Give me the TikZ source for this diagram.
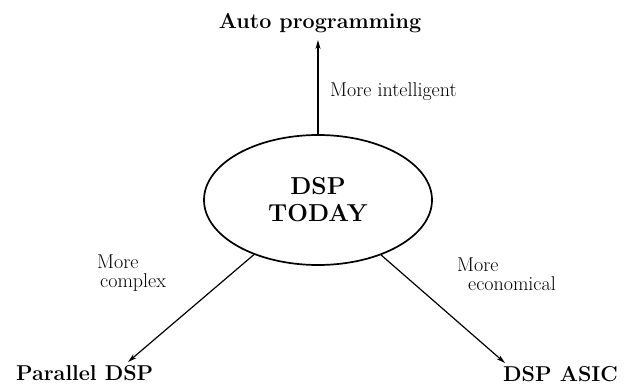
\documentclass[tikz,border=0pt]{standalone}
\usetikzlibrary{arrows.meta,shapes.geometric}

\begin{document}
\begin{tikzpicture}[x=1pt,y=-1pt,
  target/.style={font=\fontsize{21.5}{24}\selectfont\bfseries, inner sep=0pt},
  trend/.style={font=\fontsize{20}{19}\selectfont, inner sep=0pt, align=left},
  core/.style={ellipse, draw, line width=1.7pt, minimum width=228pt, minimum height=130pt,
    inner sep=0pt, align=center, font=\fontsize{24.5}{27}\selectfont\bfseries},
  link/.style={line width=1.2pt, -{Stealth[length=9pt,width=5pt]}}]
  \useasboundingbox (0,0) rectangle (626,390);

  % central ellipse
  \node[core] (ell) at (318,200) {DSP\\TODAY};

  % directions of development
  \node[target, anchor=base] (auto) at (320,29) {Auto programming};
  \node[target, anchor=base west] (par) at (16,380) {Parallel DSP};
  \node[target, anchor=base west] (asic) at (503,381) {DSP ASIC};

  % arrow tips
  \coordinate (topP) at (318,40);
  \coordinate (tipP) at (128,362);
  \coordinate (tipA) at (505,363);

  \draw[link] (ell.north) -- (topP);
  \draw[link] (ell) -- (tipP);
  \draw[link] (ell) -- (tipA);

  % arrow labels
  \node[trend, anchor=base west] (lint) at (330,97) {More intelligent};
  \node[trend, anchor=base west] (lcpx) at (97,287) {More\\\hspace*{3pt}complex};
  \node[trend, anchor=base west] (leco) at (457,290) {More\\\hspace*{11pt}economical};
\end{tikzpicture}
\end{document}
